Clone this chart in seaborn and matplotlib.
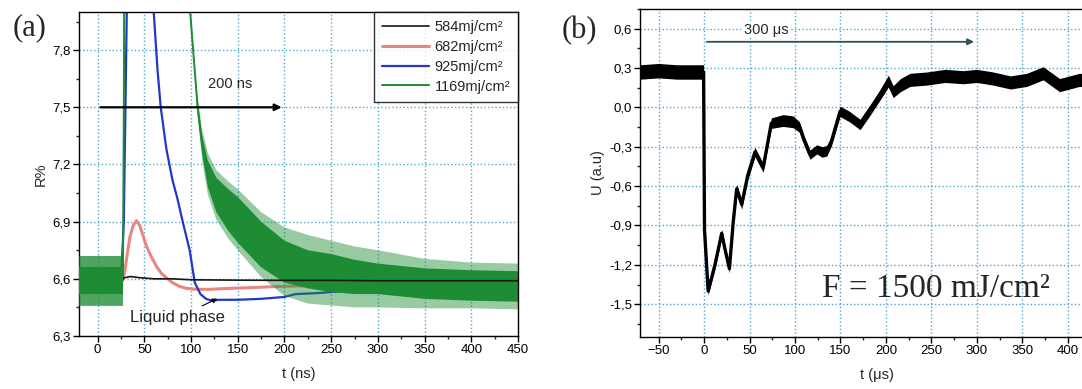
import numpy as np
import matplotlib
matplotlib.use("Agg")
import matplotlib.pyplot as plt
from matplotlib.ticker import MultipleLocator, FuncFormatter
import seaborn as sns

# ---- panel (a): reflectivity R% vs t (ns) ----
t_584 = [-20, 25, 28, 35, 45, 60, 80, 100, 150, 200, 250, 300, 350, 400, 450]
r_584 = [6.59, 6.59, 6.605, 6.612, 6.606, 6.60, 6.60, 6.595, 6.593, 6.592, 6.592, 6.59, 6.59, 6.59, 6.59]

t_682 = [-20, 25, 27, 29, 32, 34.5, 38, 41.6, 45, 52.3, 57, 63, 68, 73.6, 80, 87.8, 95,
         105.6, 120, 141, 170, 194.6, 230, 260, 300, 350, 400, 450]
r_682 = [6.59, 6.59, 6.60, 6.64, 6.74, 6.82, 6.88, 6.905, 6.88, 6.77, 6.72, 6.665, 6.63, 6.605, 6.58,
         6.56, 6.55, 6.545, 6.545, 6.55, 6.555, 6.56, 6.565, 6.57, 6.575, 6.58, 6.58, 6.58]

t_925 = [-20, 25, 28, 30, 32, 35, 50, 57, 60, 64, 67.5, 73.6, 80, 85.4, 92, 98.5, 104, 110,
         116, 122, 130, 150, 175, 200, 212, 235, 262, 300, 350, 450]
r_925 = [6.59, 6.59, 6.9, 7.6, 8.3, 9.0, 9.0, 8.25, 8.0, 7.7, 7.5, 7.28, 7.12, 7.02, 6.88, 6.75, 6.58, 6.52,
         6.495, 6.485, 6.49, 6.49, 6.495, 6.505, 6.52, 6.525, 6.535, 6.55, 6.56, 6.57]

t_1169 = [-20, 27, 28, 29, 96, 99, 103, 107, 112, 118, 127, 140, 150, 175, 200, 225, 250, 275, 300, 350, 400, 450]
r_1169 = [6.59, 6.59, 7.5, 9.0, 8.2, 8.0, 7.75, 7.5, 7.3, 7.15, 7.04, 6.96, 6.91, 6.78, 6.69, 6.65, 6.63,
          6.61, 6.60, 6.575, 6.565, 6.56]
# noise half-widths of the 1169 trace (dense core and spikes)
n_core_1169 = [0.07, 0.07, 0.02, 0.02, 0.02, 0.02, 0.02, 0.03, 0.05, 0.07, 0.09, 0.11, 0.12, 0.12, 0.11,
               0.10, 0.10, 0.09, 0.08, 0.08, 0.08, 0.08]
n_spike_1169 = [0.13, 0.13, 0.03, 0.03, 0.03, 0.03, 0.03, 0.05, 0.08, 0.11, 0.13, 0.15, 0.16, 0.17, 0.18,
                0.18, 0.17, 0.16, 0.15, 0.13, 0.12, 0.12]

labels_a = ["584mj/cm²", "682mj/cm²", "925mj/cm²", "1169mj/cm²"]

# ---- panel (b): U (a.u) vs t (us) ----
t_b = [-70, -50, -30, -10, -0.5, 0.5, 4.5, 12, 19.4, 23, 27.9, 32, 35.9, 41.4, 48, 56, 65, 74, 87, 98,
       105, 110, 116.5, 124, 130, 135, 140, 149.6, 160, 171.6, 182.6, 193, 202.7, 208, 216, 226.6, 245,
       265, 285, 300, 318, 337, 355, 373, 391, 413, 430]
u_b = [0.27, 0.28, 0.27, 0.27, 0.27, -0.93, -1.40, -1.20, -0.96, -1.08, -1.23, -0.88, -0.62, -0.74,
       -0.52, -0.34, -0.46, -0.12, -0.10, -0.11, -0.15, -0.25, -0.36, -0.32, -0.34, -0.33, -0.26, -0.03,
       -0.07, -0.13, -0.02, 0.09, 0.20, 0.12, 0.17, 0.21, 0.22, 0.24, 0.23, 0.24, 0.22, 0.19, 0.21, 0.26,
       0.17, 0.21, 0.20]
n_b = [0.055, 0.055, 0.055, 0.055, 0.055, 0.01, 0.03, 0.03, 0.03, 0.03, 0.03, 0.03, 0.035, 0.035,
       0.035, 0.035, 0.035, 0.04, 0.045, 0.045, 0.04, 0.035, 0.035, 0.035, 0.04, 0.04, 0.035, 0.04,
       0.04, 0.04, 0.04, 0.04, 0.045, 0.045, 0.05, 0.05, 0.05, 0.05, 0.05, 0.05, 0.05, 0.05,
       0.05, 0.05, 0.05, 0.05, 0.05]
ticks_b = [-50, 0, 50, 100, 150, 200, 250, 300, 350, 400]

sns.set_style("ticks")
plt.rcParams['font.family'] = ['Liberation Sans', 'DejaVu Sans']
plt.rcParams['xtick.direction'] = 'out'
plt.rcParams['ytick.direction'] = 'out'

colors = ['#161616', '#e8877f', '#2236c8', '#1e8c34']
grid_col = '#4fa8cc'


def comma(v, pos):
    s = f"{v:.1f}"
    if s == "-0.0":
        s = "0.0"
    return s.replace('.', ',')


def style_axes(ax):
    ax.grid(True, which='major', color=grid_col, linestyle=':', linewidth=1.0)
    ax.set_axisbelow(True)
    for sp in ax.spines.values():
        sp.set_color('black')
        sp.set_linewidth(1.0)
    ax.tick_params(which='major', length=4, width=1, labelsize=9.5, colors='black', pad=2)
    ax.tick_params(which='minor', length=2.5, width=1)
    ax.yaxis.set_major_formatter(FuncFormatter(comma))


fig = plt.figure(figsize=(10.82, 3.89), dpi=100)
ax1 = fig.add_axes([79 / 1082, 1 - 336 / 389, (518 - 79) / 1082, (336 - 12) / 389])
ax2 = fig.add_axes([640.4 / 1082, 1 - 337 / 389, 472.8 / 1082, (337 - 9) / 389])

# panel (a)
tg = np.array(t_1169)
rg = np.array(r_1169)
nc = np.array(n_core_1169)
ns_ = np.array(n_spike_1169)
ax1.fill_between(tg, rg - ns_, rg + ns_, color=colors[3], alpha=0.45, lw=0, zorder=1)
ax1.fill_between(tg, rg - nc, rg + nc, color=colors[3], lw=0, zorder=1.2)
sns.lineplot(x=t_584, y=r_584, ax=ax1, color=colors[0], lw=1.2, estimator=None, label=labels_a[0], zorder=3)
sns.lineplot(x=t_682, y=r_682, ax=ax1, color=colors[1], lw=2.2, estimator=None, label=labels_a[1], zorder=0.8)
sns.lineplot(x=t_925, y=r_925, ax=ax1, color=colors[2], lw=1.6, estimator=None, label=labels_a[2], zorder=0.9)
sns.lineplot(x=t_1169, y=r_1169, ax=ax1, color=colors[3], lw=1.4, estimator=None, label=labels_a[3], zorder=1.5)
# pre-trigger noise of the 1169 trace covers the other traces
pre = tg <= 27
ax1.fill_between(tg[pre], (rg - ns_)[pre], (rg + ns_)[pre], color=colors[3], alpha=0.6, lw=0, zorder=5)
ax1.fill_between(tg[pre], (rg - nc)[pre], (rg + nc)[pre], color=colors[3], lw=0, zorder=5)

ax1.set_xlim(-20, 450)
ax1.set_ylim(6.3, 8.0)
ax1.xaxis.set_major_locator(MultipleLocator(50))
ax1.xaxis.set_minor_locator(MultipleLocator(25))
ax1.yaxis.set_major_locator(MultipleLocator(0.3))
ax1.yaxis.set_minor_locator(MultipleLocator(0.15))
style_axes(ax1)
ax1.set_xlabel('t (ns)', fontsize=10.5, labelpad=8)
ax1.set_ylabel('R%', fontsize=10.5, labelpad=3)

leg = ax1.legend(loc='upper right', borderaxespad=0, fancybox=False, frameon=True, fontsize=10.5,
                 handlelength=3.2, handletextpad=0.4, labelspacing=0.4, borderpad=0.55)
leg.get_frame().set_edgecolor('black')
leg.get_frame().set_linewidth(1.0)
leg.set_zorder(10)

ax1.annotate('', xy=(200, 7.5), xytext=(0, 7.5),
             arrowprops=dict(arrowstyle='-|>', color='black', lw=1.6, mutation_scale=10), zorder=6)
ax1.text(142, 7.62, '200 ns', fontsize=10.5, ha='center', va='center', zorder=6)
ax1.annotate('Liquid phase', xy=(128, 6.496), xytext=(85, 6.395), fontsize=12, ha='center', va='center',
             arrowprops=dict(arrowstyle='-|>', color='black', lw=0.8, mutation_scale=7,
                             shrinkA=2, shrinkB=0), zorder=6)

# panel (b)
tb = np.array(t_b)
ub = np.array(u_b)
nb = np.array(n_b)
ax2.fill_between(tb, ub - nb, ub + nb, color='black', lw=0, zorder=2)
sns.lineplot(x=t_b, y=u_b, ax=ax2, color='black', lw=2.4, estimator=None, zorder=3)
ax2.set_xlim(-70, 450)
ax2.set_ylim(-1.75, 0.75)
ax2.set_xticks(ticks_b)
ax2.xaxis.set_minor_locator(MultipleLocator(25))
ax2.yaxis.set_major_locator(MultipleLocator(0.3))
ax2.yaxis.set_minor_locator(MultipleLocator(0.15))
style_axes(ax2)
ax2.spines['right'].set_visible(False)
ax2.set_xlabel('t (μs)', fontsize=10.5, labelpad=8)
ax2.set_ylabel('U (a.u)', fontsize=10.5, labelpad=3)

ax2.annotate('', xy=(300, 0.5), xytext=(0, 0.5),
             arrowprops=dict(arrowstyle='-|>', color='#2f4f5a', lw=1.3, mutation_scale=9), zorder=6)
ax2.text(68, 0.59, '300 μs', fontsize=10.5, ha='center', va='center', zorder=6,
         bbox=dict(facecolor='white', edgecolor='none', pad=0.5))
ax2.text(130, -1.385, 'F = 1500 mJ/cm²', fontsize=24, family=['Liberation Serif', 'DejaVu Serif'],
         ha='left', va='center', zorder=6)

fig.text(0.012, 1 - 28 / 389, '(a)', fontsize=22, family=['Liberation Serif', 'DejaVu Serif'],
         ha='left', va='center')
fig.text(562 / 1082, 1 - 31 / 389, '(b)', fontsize=22, family=['Liberation Serif', 'DejaVu Serif'],
         ha='left', va='center')

fig.savefig('out.png', dpi=100)
